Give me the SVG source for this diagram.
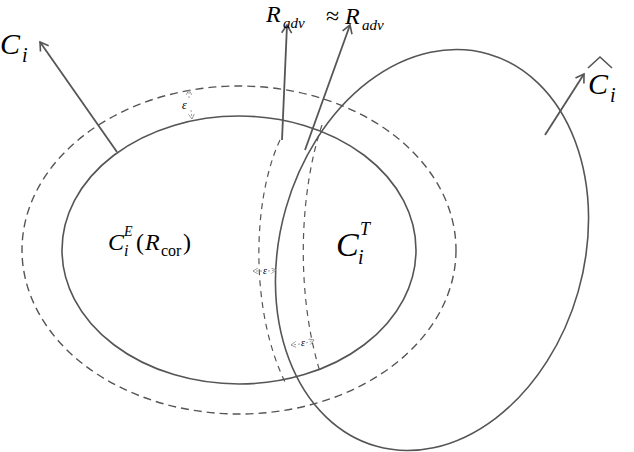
<svg xmlns="http://www.w3.org/2000/svg" width="634" height="452" viewBox="0 0 634 452">
<style>
.s{fill:none;stroke:#555;stroke-width:1.6}
.d{fill:none;stroke:#555;stroke-width:1.4;stroke-dasharray:8 5}
.dd{fill:none;stroke:#555;stroke-width:1.2;stroke-dasharray:6 5}
.e{fill:none;stroke:#888;stroke-width:0.8;stroke-dasharray:2 2}
.a{stroke:#555;stroke-width:1.8;fill:none}
text{font-family:"Liberation Serif",serif;fill:#000}
</style>
<defs>
<marker id="ah" markerWidth="12" markerHeight="12" refX="9" refY="6" orient="auto" markerUnits="userSpaceOnUse"><path d="M1,1 L9,6 L1,11" fill="none" stroke="#555" stroke-width="1.6"/></marker>
<marker id="sm" markerWidth="6" markerHeight="6" refX="5" refY="3" orient="auto" markerUnits="userSpaceOnUse"><path d="M0,0 L5,3 L0,6" fill="none" stroke="#888" stroke-width="0.8"/></marker>
</defs>
<g id="outer"><ellipse class="d" cx="239" cy="250" rx="217" ry="164"/></g>
<g id="inner"><ellipse class="s" cx="239" cy="250" rx="177" ry="134"/></g>
<g id="right"><ellipse class="s" cx="432" cy="250" rx="152" ry="204" transform="rotate(16 432 250)"/></g>
<g id="bands">
<path class="dd" d="M280,140 C252,200 250,310 285,382"/>
<path class="dd" d="M322,125 C300,190 295,290 320,372"/>
</g>
<g id="connectors">
<line class="a" x1="117" y1="152" x2="40" y2="42" marker-end="url(#ah)"/>
<line class="a" x1="282" y1="140" x2="287" y2="25" marker-end="url(#ah)"/>
<line class="a" x1="305" y1="150" x2="350" y2="25" marker-end="url(#ah)"/>
<line class="a" x1="545" y1="135" x2="584" y2="74" marker-end="url(#ah)"/>
<line class="e" x1="189" y1="98" x2="189" y2="90" marker-end="url(#sm)"/>
<line class="e" x1="191" y1="110" x2="192" y2="119" marker-end="url(#sm)"/>
<line class="e" x1="262" y1="271" x2="253" y2="271" marker-end="url(#sm)"/>
<line class="e" x1="268" y1="271" x2="276" y2="270" marker-end="url(#sm)"/>
<line class="e" x1="300" y1="344" x2="291" y2="345" marker-end="url(#sm)"/>
<line class="e" x1="306" y1="343" x2="314" y2="340" marker-end="url(#sm)"/>
</g>
<g id="labels">
<text x="0" y="54" font-size="30" font-style="italic">C</text><text x="22" y="62" font-size="20" font-style="italic">i</text>
<text x="266" y="22" font-size="24" font-style="italic">R</text><text x="283" y="28" font-size="15" font-style="italic">adv</text>
<text x="326" y="24" font-size="24">≈</text><text x="345" y="24" font-size="24" font-style="italic">R</text><text x="362" y="30" font-size="15" font-style="italic">adv</text>
<text x="588" y="94" font-size="30" font-style="italic">C</text><text x="610" y="102" font-size="20" font-style="italic">i</text>
<path class="s" d="M588,68 L600,57 L612,68" stroke-width="1.2"/>
<text x="182" y="109" font-size="12" font-style="italic">ε</text>
<text x="263" y="274" font-size="10" font-style="italic">ε</text>
<text x="301" y="346" font-size="10" font-style="italic">ε</text>
<text x="108" y="250" font-size="24" font-style="italic">C</text><text x="124" y="256" font-size="16" font-style="italic">i</text><text x="124" y="236" font-size="14" font-style="italic">E</text>
<text x="136" y="250" font-size="24">(</text><text x="145" y="250" font-size="24" font-style="italic">R</text><text x="161" y="256" font-size="16">cor</text><text x="183" y="250" font-size="24">)</text>
<text x="336" y="256" font-size="34" font-style="italic">C</text><text x="358" y="264" font-size="20" font-style="italic">i</text><text x="360" y="235" font-size="18" font-style="italic">T</text>
</g>
</svg>
